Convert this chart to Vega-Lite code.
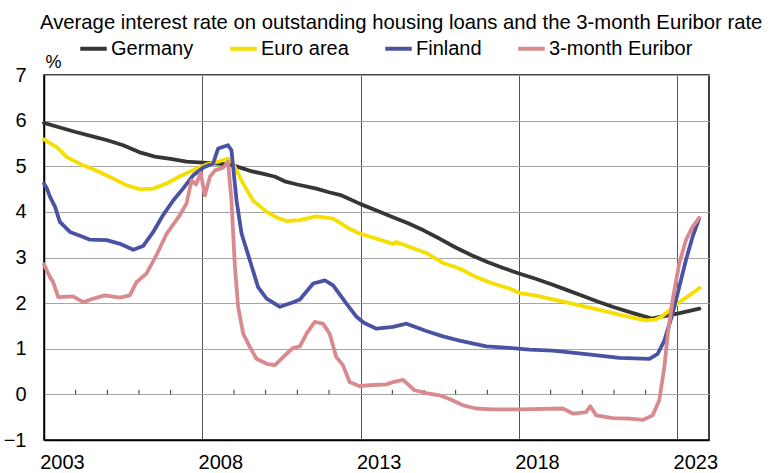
{
  "$schema": "https://vega.github.io/schema/vega-lite/v6.json",
  "width": 665,
  "height": 365,
  "autosize": {"type": "none"},
  "padding": {"left": 44, "top": 75, "right": 66, "bottom": 33},
  "background": "white",
  "config": {
    "font": "Liberation Sans",
    "view": {"stroke": "#000000", "strokeWidth": 1.5},
    "axis": {"labelFont": "Liberation Sans", "titleFont": "Liberation Sans", "labelColor": "#000000", "titleColor": "#000000"}
  },
  "title": {
    "text": "Average interest rate on outstanding housing loans and the 3-month Euribor rate",
    "anchor": "start",
    "frame": "group",
    "dx": -4,
    "fontSize": 20.3,
    "fontWeight": "normal",
    "font": "Liberation Sans",
    "color": "#000000",
    "offset": 0
  },
  "datasets": {
    "ticks": [
      {"t": 2004}, {"t": 2005}, {"t": 2006}, {"t": 2007}, {"t": 2009}, {"t": 2010}, {"t": 2011}, {"t": 2012},
      {"t": 2014}, {"t": 2015}, {"t": 2016}, {"t": 2017}, {"t": 2019}, {"t": 2020}, {"t": 2021}, {"t": 2022}
    ],
    "rates": [
      {"s": "Germany", "t": 2003.0, "v": 5.95},
      {"s": "Germany", "t": 2003.5, "v": 5.85},
      {"s": "Germany", "t": 2004.0, "v": 5.75},
      {"s": "Germany", "t": 2004.5, "v": 5.66},
      {"s": "Germany", "t": 2005.0, "v": 5.57},
      {"s": "Germany", "t": 2005.5, "v": 5.46},
      {"s": "Germany", "t": 2006.0, "v": 5.31},
      {"s": "Germany", "t": 2006.5, "v": 5.21},
      {"s": "Germany", "t": 2007.0, "v": 5.16},
      {"s": "Germany", "t": 2007.5, "v": 5.10},
      {"s": "Germany", "t": 2008.0, "v": 5.08},
      {"s": "Germany", "t": 2008.5, "v": 5.06},
      {"s": "Germany", "t": 2008.9, "v": 5.03},
      {"s": "Germany", "t": 2009.2, "v": 4.97},
      {"s": "Germany", "t": 2009.5, "v": 4.90},
      {"s": "Germany", "t": 2010.0, "v": 4.82},
      {"s": "Germany", "t": 2010.3, "v": 4.77},
      {"s": "Germany", "t": 2010.6, "v": 4.67},
      {"s": "Germany", "t": 2011.0, "v": 4.60},
      {"s": "Germany", "t": 2011.6, "v": 4.51},
      {"s": "Germany", "t": 2012.0, "v": 4.43},
      {"s": "Germany", "t": 2012.4, "v": 4.36},
      {"s": "Germany", "t": 2013.0, "v": 4.17},
      {"s": "Germany", "t": 2013.5, "v": 4.03},
      {"s": "Germany", "t": 2014.0, "v": 3.89},
      {"s": "Germany", "t": 2014.5, "v": 3.75},
      {"s": "Germany", "t": 2015.0, "v": 3.59},
      {"s": "Germany", "t": 2015.5, "v": 3.41},
      {"s": "Germany", "t": 2016.0, "v": 3.22},
      {"s": "Germany", "t": 2016.5, "v": 3.05},
      {"s": "Germany", "t": 2017.0, "v": 2.90},
      {"s": "Germany", "t": 2017.5, "v": 2.77},
      {"s": "Germany", "t": 2018.0, "v": 2.65},
      {"s": "Germany", "t": 2018.5, "v": 2.54},
      {"s": "Germany", "t": 2019.0, "v": 2.42},
      {"s": "Germany", "t": 2019.5, "v": 2.29},
      {"s": "Germany", "t": 2020.0, "v": 2.16},
      {"s": "Germany", "t": 2020.5, "v": 2.03},
      {"s": "Germany", "t": 2021.0, "v": 1.91},
      {"s": "Germany", "t": 2021.6, "v": 1.78},
      {"s": "Germany", "t": 2022.2, "v": 1.66},
      {"s": "Germany", "t": 2022.45, "v": 1.70},
      {"s": "Germany", "t": 2023.0, "v": 1.77},
      {"s": "Germany", "t": 2023.7, "v": 1.88},

      {"s": "Euro area", "t": 2003.0, "v": 5.59},
      {"s": "Euro area", "t": 2003.2, "v": 5.50},
      {"s": "Euro area", "t": 2003.4, "v": 5.42},
      {"s": "Euro area", "t": 2003.72, "v": 5.20},
      {"s": "Euro area", "t": 2004.24, "v": 5.02},
      {"s": "Euro area", "t": 2004.66, "v": 4.90},
      {"s": "Euro area", "t": 2005.19, "v": 4.73},
      {"s": "Euro area", "t": 2005.61, "v": 4.58},
      {"s": "Euro area", "t": 2006.03, "v": 4.50},
      {"s": "Euro area", "t": 2006.45, "v": 4.51},
      {"s": "Euro area", "t": 2006.87, "v": 4.62},
      {"s": "Euro area", "t": 2007.29, "v": 4.78},
      {"s": "Euro area", "t": 2007.71, "v": 4.91},
      {"s": "Euro area", "t": 2008.13, "v": 5.04},
      {"s": "Euro area", "t": 2008.5, "v": 5.10},
      {"s": "Euro area", "t": 2008.81, "v": 5.17},
      {"s": "Euro area", "t": 2008.97, "v": 5.06},
      {"s": "Euro area", "t": 2009.29, "v": 4.62},
      {"s": "Euro area", "t": 2009.6, "v": 4.25},
      {"s": "Euro area", "t": 2010.03, "v": 4.00},
      {"s": "Euro area", "t": 2010.4, "v": 3.86},
      {"s": "Euro area", "t": 2010.66, "v": 3.80},
      {"s": "Euro area", "t": 2011.08, "v": 3.82},
      {"s": "Euro area", "t": 2011.6, "v": 3.90},
      {"s": "Euro area", "t": 2012.13, "v": 3.85},
      {"s": "Euro area", "t": 2012.65, "v": 3.63},
      {"s": "Euro area", "t": 2012.97, "v": 3.52},
      {"s": "Euro area", "t": 2013.28, "v": 3.46},
      {"s": "Euro area", "t": 2014.02, "v": 3.30},
      {"s": "Euro area", "t": 2014.13, "v": 3.34},
      {"s": "Euro area", "t": 2014.55, "v": 3.23},
      {"s": "Euro area", "t": 2015.07, "v": 3.10},
      {"s": "Euro area", "t": 2015.6, "v": 2.88},
      {"s": "Euro area", "t": 2016.12, "v": 2.76},
      {"s": "Euro area", "t": 2016.65, "v": 2.57},
      {"s": "Euro area", "t": 2017.17, "v": 2.43},
      {"s": "Euro area", "t": 2017.7, "v": 2.32},
      {"s": "Euro area", "t": 2018.02, "v": 2.22},
      {"s": "Euro area", "t": 2018.5, "v": 2.17},
      {"s": "Euro area", "t": 2019.07, "v": 2.08},
      {"s": "Euro area", "t": 2019.6, "v": 2.00},
      {"s": "Euro area", "t": 2020.12, "v": 1.92},
      {"s": "Euro area", "t": 2020.6, "v": 1.84},
      {"s": "Euro area", "t": 2021.17, "v": 1.75},
      {"s": "Euro area", "t": 2021.6, "v": 1.68},
      {"s": "Euro area", "t": 2022.01, "v": 1.62},
      {"s": "Euro area", "t": 2022.3, "v": 1.64},
      {"s": "Euro area", "t": 2022.5, "v": 1.70},
      {"s": "Euro area", "t": 2022.75, "v": 1.84},
      {"s": "Euro area", "t": 2023.06, "v": 2.02},
      {"s": "Euro area", "t": 2023.4, "v": 2.18},
      {"s": "Euro area", "t": 2023.7, "v": 2.33},

      {"s": "Finland", "t": 2003.0, "v": 4.62},
      {"s": "Finland", "t": 2003.1, "v": 4.50},
      {"s": "Finland", "t": 2003.19, "v": 4.33},
      {"s": "Finland", "t": 2003.35, "v": 4.11},
      {"s": "Finland", "t": 2003.5, "v": 3.78},
      {"s": "Finland", "t": 2003.82, "v": 3.56},
      {"s": "Finland", "t": 2004.24, "v": 3.45},
      {"s": "Finland", "t": 2004.45, "v": 3.39},
      {"s": "Finland", "t": 2004.98, "v": 3.38},
      {"s": "Finland", "t": 2005.4, "v": 3.30},
      {"s": "Finland", "t": 2005.82, "v": 3.17},
      {"s": "Finland", "t": 2006.13, "v": 3.25},
      {"s": "Finland", "t": 2006.45, "v": 3.56},
      {"s": "Finland", "t": 2006.76, "v": 3.93},
      {"s": "Finland", "t": 2007.08, "v": 4.25},
      {"s": "Finland", "t": 2007.39, "v": 4.51},
      {"s": "Finland", "t": 2007.71, "v": 4.80},
      {"s": "Finland", "t": 2008.03, "v": 4.97},
      {"s": "Finland", "t": 2008.34, "v": 5.06},
      {"s": "Finland", "t": 2008.5, "v": 5.39},
      {"s": "Finland", "t": 2008.81, "v": 5.46},
      {"s": "Finland", "t": 2008.92, "v": 5.35},
      {"s": "Finland", "t": 2009.08, "v": 4.25},
      {"s": "Finland", "t": 2009.24, "v": 3.52},
      {"s": "Finland", "t": 2009.5, "v": 2.94},
      {"s": "Finland", "t": 2009.76, "v": 2.35},
      {"s": "Finland", "t": 2010.03, "v": 2.10},
      {"s": "Finland", "t": 2010.45, "v": 1.92},
      {"s": "Finland", "t": 2010.87, "v": 2.02},
      {"s": "Finland", "t": 2011.08, "v": 2.08},
      {"s": "Finland", "t": 2011.5, "v": 2.43},
      {"s": "Finland", "t": 2011.87, "v": 2.50},
      {"s": "Finland", "t": 2012.13, "v": 2.39},
      {"s": "Finland", "t": 2012.55, "v": 1.99},
      {"s": "Finland", "t": 2012.87, "v": 1.70},
      {"s": "Finland", "t": 2013.1, "v": 1.57},
      {"s": "Finland", "t": 2013.5, "v": 1.44},
      {"s": "Finland", "t": 2014.02, "v": 1.48},
      {"s": "Finland", "t": 2014.45, "v": 1.55},
      {"s": "Finland", "t": 2015.07, "v": 1.39},
      {"s": "Finland", "t": 2015.6, "v": 1.27},
      {"s": "Finland", "t": 2016.12, "v": 1.18},
      {"s": "Finland", "t": 2016.97, "v": 1.05},
      {"s": "Finland", "t": 2017.7, "v": 1.02},
      {"s": "Finland", "t": 2018.33, "v": 0.98},
      {"s": "Finland", "t": 2019.07, "v": 0.96},
      {"s": "Finland", "t": 2020.12, "v": 0.88},
      {"s": "Finland", "t": 2021.17, "v": 0.80},
      {"s": "Finland", "t": 2022.12, "v": 0.78},
      {"s": "Finland", "t": 2022.38, "v": 0.89},
      {"s": "Finland", "t": 2022.59, "v": 1.18},
      {"s": "Finland", "t": 2022.85, "v": 1.77},
      {"s": "Finland", "t": 2023.06, "v": 2.35},
      {"s": "Finland", "t": 2023.27, "v": 2.94},
      {"s": "Finland", "t": 2023.48, "v": 3.45},
      {"s": "Finland", "t": 2023.69, "v": 3.85},

      {"s": "3-month Euribor", "t": 2003.0, "v": 2.85},
      {"s": "3-month Euribor", "t": 2003.1, "v": 2.70},
      {"s": "3-month Euribor", "t": 2003.19, "v": 2.57},
      {"s": "3-month Euribor", "t": 2003.29, "v": 2.46},
      {"s": "3-month Euribor", "t": 2003.45, "v": 2.13},
      {"s": "3-month Euribor", "t": 2003.92, "v": 2.15},
      {"s": "3-month Euribor", "t": 2004.24, "v": 2.02},
      {"s": "3-month Euribor", "t": 2004.56, "v": 2.10},
      {"s": "3-month Euribor", "t": 2004.92, "v": 2.17},
      {"s": "3-month Euribor", "t": 2005.4, "v": 2.12},
      {"s": "3-month Euribor", "t": 2005.71, "v": 2.17},
      {"s": "3-month Euribor", "t": 2005.92, "v": 2.46},
      {"s": "3-month Euribor", "t": 2006.24, "v": 2.65},
      {"s": "3-month Euribor", "t": 2006.55, "v": 3.05},
      {"s": "3-month Euribor", "t": 2006.87, "v": 3.52},
      {"s": "3-month Euribor", "t": 2007.29, "v": 3.93},
      {"s": "3-month Euribor", "t": 2007.5, "v": 4.18},
      {"s": "3-month Euribor", "t": 2007.66, "v": 4.69},
      {"s": "3-month Euribor", "t": 2007.8, "v": 4.60},
      {"s": "3-month Euribor", "t": 2007.95, "v": 4.85},
      {"s": "3-month Euribor", "t": 2008.08, "v": 4.36},
      {"s": "3-month Euribor", "t": 2008.24, "v": 4.77},
      {"s": "3-month Euribor", "t": 2008.4, "v": 4.91},
      {"s": "3-month Euribor", "t": 2008.66, "v": 4.97},
      {"s": "3-month Euribor", "t": 2008.81, "v": 5.10},
      {"s": "3-month Euribor", "t": 2008.92, "v": 4.25},
      {"s": "3-month Euribor", "t": 2009.03, "v": 2.79},
      {"s": "3-month Euribor", "t": 2009.13, "v": 1.92},
      {"s": "3-month Euribor", "t": 2009.29, "v": 1.33},
      {"s": "3-month Euribor", "t": 2009.5, "v": 1.04},
      {"s": "3-month Euribor", "t": 2009.71, "v": 0.78},
      {"s": "3-month Euribor", "t": 2010.03, "v": 0.67},
      {"s": "3-month Euribor", "t": 2010.29, "v": 0.64},
      {"s": "3-month Euribor", "t": 2010.66, "v": 0.89},
      {"s": "3-month Euribor", "t": 2010.87, "v": 1.02},
      {"s": "3-month Euribor", "t": 2011.08, "v": 1.05},
      {"s": "3-month Euribor", "t": 2011.29, "v": 1.33},
      {"s": "3-month Euribor", "t": 2011.55, "v": 1.59},
      {"s": "3-month Euribor", "t": 2011.81, "v": 1.55},
      {"s": "3-month Euribor", "t": 2012.02, "v": 1.33},
      {"s": "3-month Euribor", "t": 2012.23, "v": 0.82},
      {"s": "3-month Euribor", "t": 2012.44, "v": 0.64},
      {"s": "3-month Euribor", "t": 2012.65, "v": 0.27},
      {"s": "3-month Euribor", "t": 2012.97, "v": 0.18},
      {"s": "3-month Euribor", "t": 2013.28, "v": 0.20},
      {"s": "3-month Euribor", "t": 2013.81, "v": 0.22},
      {"s": "3-month Euribor", "t": 2014.02, "v": 0.27},
      {"s": "3-month Euribor", "t": 2014.34, "v": 0.32},
      {"s": "3-month Euribor", "t": 2014.7, "v": 0.09},
      {"s": "3-month Euribor", "t": 2015.07, "v": 0.03},
      {"s": "3-month Euribor", "t": 2015.49, "v": -0.02},
      {"s": "3-month Euribor", "t": 2015.81, "v": -0.10},
      {"s": "3-month Euribor", "t": 2016.23, "v": -0.24},
      {"s": "3-month Euribor", "t": 2016.65, "v": -0.31},
      {"s": "3-month Euribor", "t": 2017.17, "v": -0.33},
      {"s": "3-month Euribor", "t": 2018.02, "v": -0.33},
      {"s": "3-month Euribor", "t": 2019.38, "v": -0.31},
      {"s": "3-month Euribor", "t": 2019.7, "v": -0.42},
      {"s": "3-month Euribor", "t": 2020.12, "v": -0.39},
      {"s": "3-month Euribor", "t": 2020.25, "v": -0.26},
      {"s": "3-month Euribor", "t": 2020.44, "v": -0.46},
      {"s": "3-month Euribor", "t": 2020.96, "v": -0.52},
      {"s": "3-month Euribor", "t": 2021.49, "v": -0.53},
      {"s": "3-month Euribor", "t": 2021.91, "v": -0.56},
      {"s": "3-month Euribor", "t": 2022.22, "v": -0.46},
      {"s": "3-month Euribor", "t": 2022.43, "v": -0.13},
      {"s": "3-month Euribor", "t": 2022.59, "v": 0.60},
      {"s": "3-month Euribor", "t": 2022.7, "v": 1.33},
      {"s": "3-month Euribor", "t": 2022.85, "v": 2.06},
      {"s": "3-month Euribor", "t": 2023.06, "v": 2.87},
      {"s": "3-month Euribor", "t": 2023.27, "v": 3.38},
      {"s": "3-month Euribor", "t": 2023.48, "v": 3.67},
      {"s": "3-month Euribor", "t": 2023.69, "v": 3.87}
    ]
  },
  "layer": [
    {
      "data": {"name": "ticks"},
      "mark": {"type": "rule", "color": "#333333", "strokeWidth": 1},
      "encoding": {
        "x": {"field": "t", "type": "quantitative", "scale": {"domain": [2003, 2024], "nice": false, "zero": false}},
        "y": {"datum": 0, "type": "quantitative"},
        "y2": {"datum": 0.1}
      }
    },
    {
      "data": {"name": "rates"},
      "mark": {"type": "line", "strokeWidth": 3.8, "strokeJoin": "round", "strokeCap": "round", "interpolate": "linear"},
      "encoding": {
        "x": {
          "field": "t", "type": "quantitative",
          "scale": {"domain": [2003, 2024], "nice": false, "zero": false},
          "axis": {
            "title": null,
            "values": [2003, 2008, 2013, 2018, 2023],
            "format": "d",
            "labelOffset": 18,
            "labelFontSize": 20,
            "labelPadding": 12,
            "labelFlush": false,
            "labelBound": false,
            "labelOverlap": false,
            "ticks": false,
            "domainColor": "#000000",
            "domainWidth": 1.5,
            "grid": true,
            "gridColor": "#555555",
            "gridWidth": 1
          }
        },
        "y": {
          "field": "v", "type": "quantitative",
          "scale": {"domain": [-1, 7], "nice": false, "zero": false},
          "axis": {
            "title": "%",
            "titleAngle": 0,
            "titleAlign": "left",
            "titleBaseline": "bottom",
            "titleX": 1,
            "titleY": -4,
            "titleFontSize": 18,
            "titleFontWeight": "normal",
            "values": [-1, 0, 1, 2, 3, 4, 5, 6, 7],
            "labelFontSize": 20,
            "labelPadding": 18,
            "ticks": false,
            "domainColor": "#000000",
            "domainWidth": 1.5,
            "grid": true,
            "gridColor": "#a6a6a6",
            "gridWidth": 1.2
          }
        },
        "color": {
          "field": "s", "type": "nominal",
          "scale": {
            "domain": ["Germany", "Euro area", "Finland", "3-month Euribor"],
            "range": ["#363636", "#f5df00", "#4a53a3", "#d98a8f"]
          },
          "legend": {
            "title": null,
            "orient": "none",
            "legendX": 34,
            "legendY": -42,
            "direction": "horizontal",
            "columns": 4,
            "columnPadding": 28,
            "symbolType": "stroke",
            "symbolSize": 700,
            "symbolStrokeWidth": 4,
            "labelFontSize": 20,
            "labelOffset": 2,
            "labelColor": "#000000",
            "labelFont": "Liberation Sans"
          }
        }
      }
    }
  ]
}
